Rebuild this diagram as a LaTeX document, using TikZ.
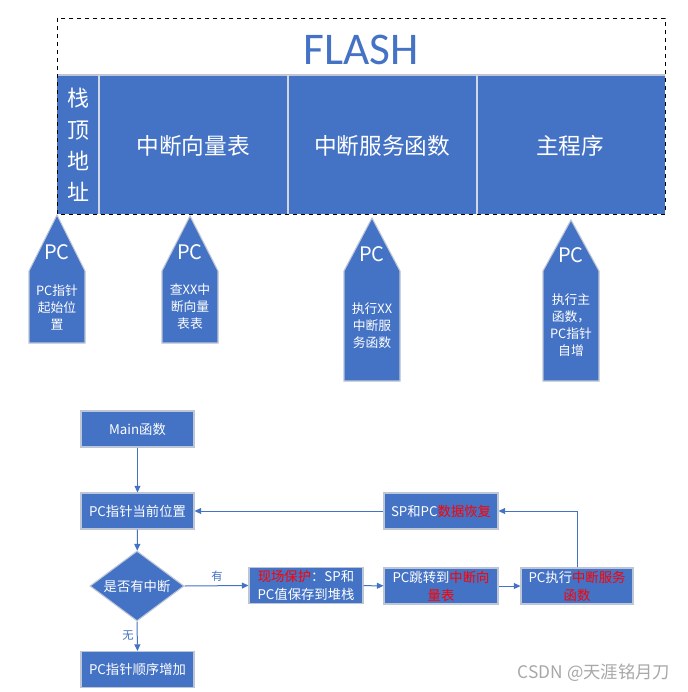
\documentclass[tikz,border=0pt]{standalone}
\usepackage{fontspec}
\setmainfont{Noto Sans CJK SC}
\newfontfamily\carlito{Carlito}
\usetikzlibrary{arrows.meta,shapes.geometric}
\definecolor{mblue}{HTML}{4472C4}
\definecolor{mborder}{HTML}{BCC6D6}
\definecolor{mred}{HTML}{FF0000}
\definecolor{wm}{HTML}{A8A8A8}
\begin{document}
\begin{tikzpicture}[x=0.75pt,y=-0.75pt,
  flowbox/.style={draw=mborder,fill=mblue,text=white,line width=0.8pt,inner sep=0pt,
    minimum width=84.75pt,minimum height=27pt,align=center,
    font=\fontsize{10}{13.5}\selectfont},
  conn/.style={draw=mblue,line width=0.75pt,-{Triangle[length=5pt,width=4.5pt]}},
  pcshape/.style={draw=mborder,fill=mblue,line width=0.8pt},
  pctext/.style={text=white,font=\fontsize{15}{18}\selectfont},
  pcbody/.style={text=white,align=center,font=\fontsize{9.6}{12.75}\selectfont},
  bigtext/.style={text=white,font=\fontsize{17}{20}\selectfont},
  lbl/.style={text=mblue,font=\fontsize{8.5}{10}\selectfont}]
\useasboundingbox (0,0) rectangle (688,692);
\fill[white] (0,0) rectangle (688,692);

% FLASH block
\fill[mblue] (57,75) rectangle (665,214);
\draw[mborder,line width=0.8pt] (57,75) -- (665,75);
\foreach \x in {99,288,477} \draw[mborder!70!white,line width=0.8pt] (\x,75) -- (\x,214);
\draw[black,dashed,line width=0.6pt] (57,18) rectangle (665,214);
\node[text=mblue,font=\carlito\fontsize{34}{40}\selectfont] (flash) at (361,50) {FLASH};
\node[text=white,align=center,font=\fontsize{16.5}{23.6}\selectfont] (stk) at (78,145) {栈\\顶\\地\\址};
\node[bigtext] (vec) at (193,146) {中断向量表};
\node[bigtext] (isr) at (382,146) {中断服务函数};
\node[bigtext] (mainp) at (570,146) {主程序};

% PC pointers
\draw[pcshape] (29,271) -- (57,215) -- (85,271) -- (85,343) -- (29,343) -- cycle;
\node[pctext] (pcA) at (57,252) {PC};
\node[pcbody] (tA) at (57,307) {PC指针\\起始位\\置};

\draw[pcshape] (162,271) -- (190,216) -- (218,271) -- (218,343) -- (162,343) -- cycle;
\node[pctext] (pcB) at (190,252) {PC};
\node[pcbody] (tB) at (190,307) {查XX中\\断向量\\表表};

\draw[pcshape] (344,271) -- (372,218) -- (400,271) -- (400,381) -- (344,381) -- cycle;
\node[pctext] (pcC) at (372,254) {PC};
\node[pcbody] (tC) at (372,326) {执行XX\\中断服\\务函数};

\draw[pcshape] (543,271) -- (571,220) -- (599,271) -- (599,381) -- (543,381) -- cycle;
\node[pctext] (pcD) at (571,255) {PC};
\node[pcbody] (tD) at (571,325) {执行主\\函数，\\PC指针\\自增};

% flowchart
\node[flowbox] (main) at (137.5,429) {Main函数};
\node[flowbox] (cur) at (137.5,511) {PC指针当前位置};
\node[diamond,draw=mborder,fill=mblue,line width=0.8pt,inner sep=0pt,
      minimum width=70.5pt,minimum height=52.5pt] (dia) at (137,586) {};
\node[text=white,font=\fontsize{10}{13.5}\selectfont] (diat) at (dia) {是否有中断};
\node[flowbox] (inc) at (137.5,669.5) {PC指针顺序增加};
\node[flowbox,minimum width=85.5pt] (save) at (306,585.5) {\textcolor{mred}{现场保护}：SP和\\PC值保存到堆栈};
\node[flowbox,minimum width=85.5pt] (jump) at (441,586) {PC跳转到\textcolor{mred}{中断向}\\\textcolor{mred}{量表}};
\node[flowbox,minimum width=84pt] (exec) at (577,586) {PC执行\textcolor{mred}{中断服务}\\\textcolor{mred}{函数}};
\node[flowbox,minimum width=85.5pt] (rest) at (441,511) {SP和PC\textcolor{mred}{数据恢复}};

\draw[conn] (main) -- (cur);
\draw[conn] (cur) -- (dia);
\draw[conn] (dia.east) -- (save.west);
\draw[conn] (dia.south) -- (inc.north);
\draw[conn] (save) -- (jump);
\draw[conn] (jump) -- (exec);
\draw[conn] (exec.north) |- (rest.east);
\draw[conn] (rest.west) -- (cur.east);
\node[lbl] (yes) at (217,576) {有};
\node[lbl] (no) at (128,636) {无};

\node[text=wm,font=\fontsize{13}{15}\selectfont,anchor=east] (wmk) at (675,673) {CSDN @天涯铭月刀};
\end{tikzpicture}
\end{document}
